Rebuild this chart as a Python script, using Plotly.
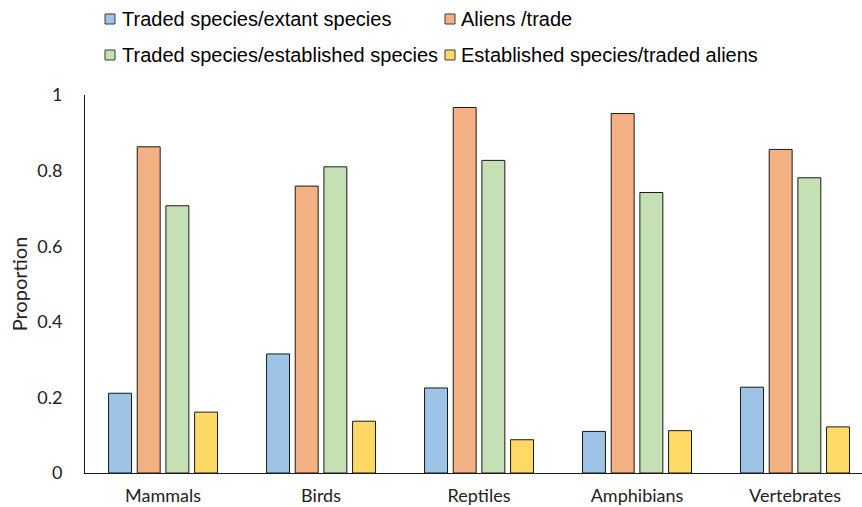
import plotly.graph_objects as go

# Taxonomic groups along the x axis
groups = ["Mammals", "Birds", "Reptiles", "Amphibians", "Vertebrates"]

# Proportions per group
traded_extant = [0.211, 0.315, 0.225, 0.110, 0.227]
aliens_trade = [0.863, 0.759, 0.967, 0.951, 0.856]
traded_established = [0.707, 0.810, 0.827, 0.742, 0.781]
established_traded_aliens = [0.161, 0.137, 0.088, 0.112, 0.122]

series_names = [
    "Traded species/extant species",
    "Aliens /trade",
    "Traded species/established species",
    "Established species/traded aliens",
]
series_values = [traded_extant, aliens_trade, traded_established, established_traded_aliens]
series_colors = ["#9DC3E6", "#F4B183", "#C5E0B4", "#FFD966"]

W, H = 862, 507
M_L, M_R, M_T, M_B = 85, 0, 95, 34
plot_w = W - M_L - M_R
plot_h = H - M_T - M_B


def px_x(px):
    """Pixel column -> paper x."""
    return (px - M_L) / plot_w


def px_y(py):
    """Pixel row (from top) -> paper y."""
    return (H - M_B - py) / plot_h


axis_family = "Lato, Carlito, Calibri, sans-serif"
legend_family = "Liberation Sans, Arial, sans-serif"

fig = go.Figure()
for name, values, color in zip(series_names, series_values, series_colors):
    fig.add_trace(go.Bar(
        x=groups, y=values, name=name, showlegend=False,
        marker=dict(color=color, line=dict(color="#1a1a1a", width=1)),
    ))

# Two-row legend block above the plot: (square left px, text left px, row centre px)
legend_slots = [(105, 120, 19), (445, 459, 19), (105, 120, 55), (445, 459, 55)]
shapes, annotations = [], []
for (sq_x, tx_x, row_y), name, color in zip(legend_slots, series_names, series_colors):
    shapes.append(dict(
        type="rect", xref="paper", yref="paper",
        x0=px_x(sq_x), x1=px_x(sq_x + 10), y0=px_y(row_y + 5), y1=px_y(row_y - 5),
        fillcolor=color, line=dict(color="#3a3a3a", width=1), layer="above",
    ))
    annotations.append(dict(
        text=name, xref="paper", yref="paper", x=px_x(tx_x), y=px_y(row_y),
        xanchor="left", yanchor="middle", showarrow=False,
        font=dict(family=legend_family, size=20, color="#000000"),
    ))

fig.update_layout(
    width=W, height=H,
    margin=dict(l=M_L, r=M_R, t=M_T, b=M_B, autoexpand=False),
    paper_bgcolor="white", plot_bgcolor="white",
    barmode="group", bargap=0.274, bargroupgap=0.2,
    shapes=shapes, annotations=annotations,
    xaxis=dict(range=[-0.494, 4.424], showline=True, linecolor="#1a1a1a", linewidth=1,
               showgrid=False, zeroline=False, ticks="", automargin=False,
               tickfont=dict(family=axis_family, size=18, color="#222222"),
               ticklabelstandoff=6),
    yaxis=dict(range=[0, 1], dtick=0.2, showline=True, linecolor="#1a1a1a", linewidth=1,
               showgrid=False, zeroline=False, ticks="", automargin=False,
               tickfont=dict(family=axis_family, size=18, color="#222222"),
               ticklabelstandoff=18,
               title=dict(text="Proportion", font=dict(family=axis_family, size=20, color="#222222"),
                          standoff=4)),
)

fig.write_html("out.html")
